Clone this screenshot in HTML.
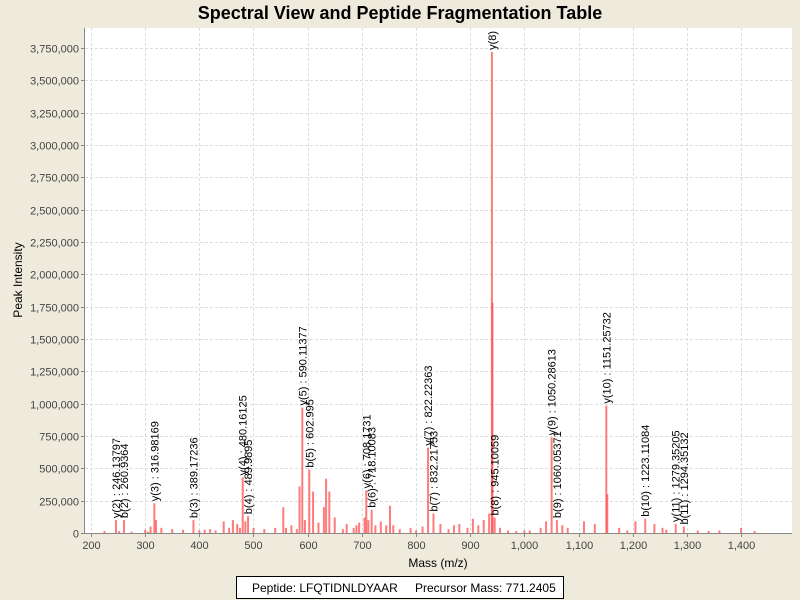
<!DOCTYPE html>
<html><head><meta charset="utf-8"><style>
body{margin:0;background:#eeebdd;font-family:"Liberation Sans",sans-serif;}
svg{display:block}
</style></head><body>
<svg id="c" width="800" height="600" xmlns="http://www.w3.org/2000/svg">
<rect width="800" height="600" fill="#eeebdd"/>
<text x="400" y="19" text-anchor="middle" font-size="18" font-weight="bold">Spectral View and Peptide Fragmentation Table</text>
<rect x="85" y="28" width="707" height="505" fill="#fff"/>
<g id="grid"></g><g id="peaks"></g><g id="labels"></g><g id="axes"></g>
<text x="438" y="567" text-anchor="middle" font-size="12">Mass (m/z)</text>
<text transform="translate(22,280) rotate(-90)" text-anchor="middle" font-size="12">Peak Intensity</text>
<g>
<rect x="236.5" y="576.5" width="327" height="22" fill="#fff" stroke="#000"/>
<text x="252" y="592" font-size="12">Peptide: LFQTIDNLDYAAR</text>
<text x="415" y="592" font-size="12">Precursor Mass: 771.2405</text>
</g>
</svg>
<script>
const xTicks=[200,300,400,500,600,700,800,900,1000,1100,1200,1300,1400];
const yTicks=[0,250000,500000,750000,1000000,1250000,1500000,1750000,2000000,2250000,2500000,2750000,3000000,3250000,3500000,3750000];
const peakMz=[225,246.14,252,260.94,275,300,305,310,316.98,320,330,350,370,389.17,400,410,420,430,445,455,462,470,475,480.16,485,489.99,500,520,540,555,560,570,580,585,590.11,595,602.99,610,620,630,634,640,650,665,672,685,690,695,705,708.17,712,718.10,725,735,745,752,758,770,790,800,812,822.22,832.22,845,860,870,880,895,905,915,925,935,940.1,941,945.10,955,970,985,1000,1010,1030,1040,1050.29,1060.05,1070,1080,1110,1130,1151.26,1153,1175,1190,1205,1223.11,1240,1255,1262,1279.35,1294.35,1320,1340,1360,1400,1425];
const peakInt=[15000,100000,15000,100000,10000,25000,10000,50000,230000,100000,40000,30000,25000,100000,20000,25000,30000,20000,90000,40000,100000,70000,40000,430000,90000,130000,40000,30000,40000,200000,40000,60000,30000,360000,970000,100000,490000,320000,80000,200000,420000,320000,120000,30000,70000,40000,60000,80000,120000,330000,100000,180000,60000,90000,60000,210000,60000,30000,40000,20000,50000,660000,150000,70000,30000,60000,70000,40000,110000,60000,100000,150000,3720000,1780000,120000,40000,20000,15000,20000,20000,40000,90000,740000,100000,60000,40000,90000,70000,985000,300000,40000,20000,90000,110000,70000,40000,25000,70000,50000,20000,15000,20000,40000,15000];
const labelMz=[246.14,260.94,316.98,389.17,480.16,489.99,590.11,602.99,708.17,718.10,822.22,832.22,940.1,945.10,1050.29,1060.05,1151.26,1223.11,1279.35,1294.35];
const labelInt=[100000,100000,230000,100000,430000,130000,970000,490000,330000,180000,660000,150000,3720000,120000,740000,100000,985000,110000,70000,50000];
const labelText=["y(2) : 246.13797","b(2) : 260.9364","y(3) : 316.98169","b(3) : 389.17236","y(4) : 480.16125","b(4) : 489.9895","y(5) : 590.11377","b(5) : 602.995","y(6) : 708.1731","b(6) : 718.10083","y(7) : 822.22363","b(7) : 832.21753","y(8) : 940.26345","b(8) : 945.10059","y(9) : 1050.28613","b(9) : 1060.05371","y(10) : 1151.25732","b(10) : 1223.11084","y(11) : 1279.35205","b(11) : 1294.35132"];
const X0=85,X1=792,Y0=533,Y1=28,xMin=189,xMax=1494,yMax=3905000;
const sx=v=>X0+(v-xMin)/(xMax-xMin)*(X1-X0);
const sy=v=>Y0-v/yMax*(Y0-Y1);
const NS="http://www.w3.org/2000/svg";
function mk(t,a,p){const e=document.createElementNS(NS,t);for(const k in a)e.setAttribute(k,a[k]);p.appendChild(e);return e;}
const fmt=v=>v.toLocaleString('en-US');
const grid=document.getElementById('grid'),axes=document.getElementById('axes'),pk=document.getElementById('peaks'),lb=document.getElementById('labels');
xTicks.forEach(v=>{const x=Math.round(sx(v))+0.5;
const g=mk('line',{x1:x,x2:x,y1:Y1,y2:Y0,stroke:'#ddd','stroke-dasharray':'3,2'},grid);


const t=mk('line',{x1:x,x2:x,y1:Y0,y2:Y0+4,stroke:'#888'},axes);


const l=mk('text',{x:x,y:Y0+16,'text-anchor':'middle','font-size':'11',fill:'#444'},axes);l.textContent=fmt(v);

});
yTicks.forEach(v=>{const y=Math.round(sy(v))+0.5;
const g=mk('line',{x1:X0,x2:X1,y1:y,y2:y,stroke:'#ddd','stroke-dasharray':'3,2'},grid);


const t=mk('line',{x1:X0-4,x2:X0,y1:y,y2:y,stroke:'#888'},axes);


const l=mk('text',{x:X0-6,y:y+4,'text-anchor':'end','font-size':'11',fill:'#444'},axes);l.textContent=fmt(v);

});
const ax=mk('path',{d:`M${X0-0.5},${Y1}V${Y0+0.5}H${X1}`,stroke:'#888',fill:'none'},axes);


peakMz.forEach((m,i)=>{const x=sx(m);
const r=mk('rect',{x:x-1,y:sy(peakInt[i]),width:2,height:Y0-sy(peakInt[i]),fill:'#ff5050','fill-opacity':'0.75'},pk);

});
labelMz.forEach((m,i)=>{const x=sx(m)+4,y=sy(labelInt[i])-2;
const t=mk('text',{transform:`translate(${x},${y}) rotate(-90)`,'font-size':'11'},lb);t.textContent=labelText[i];

});
document.getElementById('c').insertBefore(mk('clipPath',{id:'cp'},document.getElementById('c')),grid);
mk('rect',{x:X0,y:Y1,width:X1-X0,height:Y0-Y1},document.getElementById('cp'));
lb.setAttribute('clip-path','url(#cp)');
</script>
</body></html>
